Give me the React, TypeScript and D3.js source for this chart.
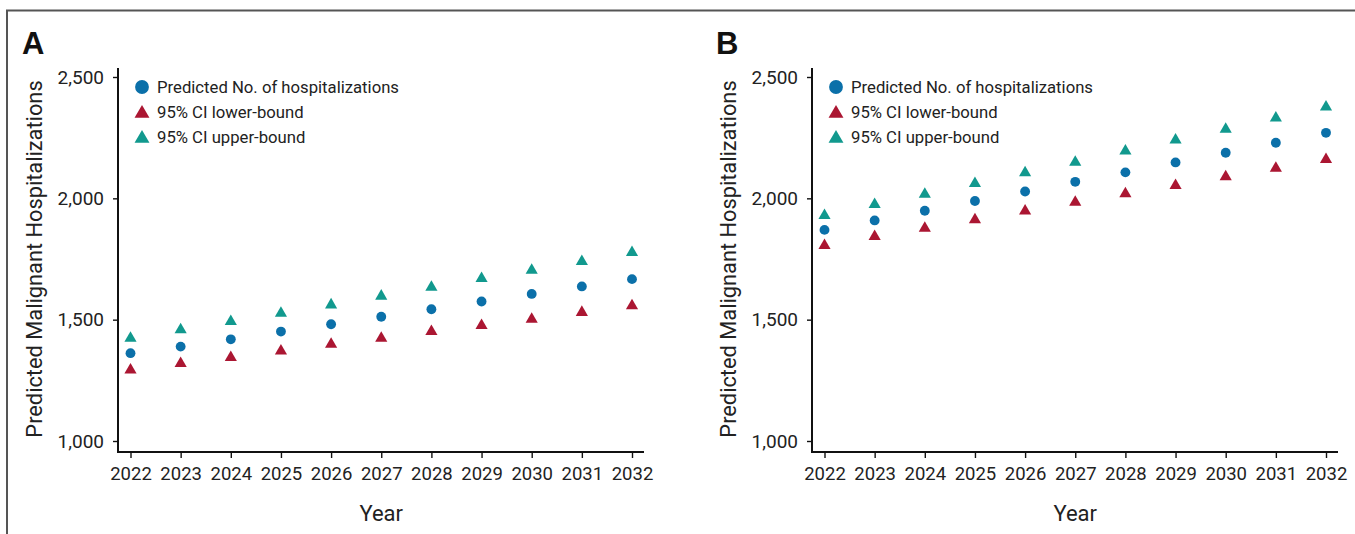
import { useEffect, useRef } from 'react'
import * as d3 from 'd3'

const years = [2022, 2023, 2024, 2025, 2026, 2027, 2028, 2029, 2030, 2031, 2032]
const yTicks = [1000, 1500, 2000, 2500]

const predA = [1362, 1389, 1419, 1451, 1481, 1512, 1543, 1575, 1606, 1637, 1667]
const lowerA = [1300, 1326, 1351, 1378, 1406, 1430, 1458, 1483, 1509, 1537, 1564]
const upperA = [1430, 1465, 1499, 1533, 1568, 1604, 1641, 1677, 1711, 1747, 1784]

const predB = [1870, 1909, 1949, 1989, 2028, 2068, 2107, 2148, 2188, 2229, 2270]
const lowerB = [1813, 1850, 1884, 1919, 1955, 1991, 2026, 2060, 2096, 2131, 2167]
const upperB = [1936, 1982, 2024, 2068, 2112, 2156, 2202, 2247, 2292, 2338, 2383]

const legendLabels = ['Predicted No. of hospitalizations', '95% CI lower-bound', '95% CI upper-bound']

const BLUE = '#0b70a9'
const RED = '#ab1632'
const TEAL = '#11998e'
const FONT = 'Roboto, "Liberation Sans", Arial, sans-serif'

const panels = [
  { label: 'A', left: 118, pred: predA, lower: lowerA, upper: upperA },
  { label: 'B', left: 812, pred: predB, lower: lowerB, upper: upperB },
]

export default function App() {
  const svgRef = useRef<SVGSVGElement>(null)

  useEffect(() => {
    const svg = d3.select(svgRef.current)
    svg.selectAll('*').remove()

    // outer frame (top and left rules)
    svg.append('path')
      .attr('d', 'M7,534 V10.5 H1355')
      .attr('fill', 'none')
      .attr('stroke', '#555')
      .attr('stroke-width', 2)

    const y = d3.scaleLinear().domain([1000, 2500]).range([441, 77])
    const tri = d3.symbol().type(d3.symbolTriangle)
    const circ = d3.symbol().type(d3.symbolCircle)

    panels.forEach((p) => {
      const x = d3.scaleLinear().domain([2022, 2032]).range([p.left + 12.5, p.left + 514])
      const g = svg.append('g')

      g.append('text')
        .attr('x', p.left - 96)
        .attr('y', 54)
        .attr('font-family', '"Liberation Sans Narrow", "Liberation Sans", Arial, sans-serif')
        .attr('font-weight', 'bold')
        .attr('font-size', 31)
        .attr('fill', '#111')
        .text(p.label)

      // y axis
      const yAxis = g.append('g')
        .attr('transform', `translate(${p.left},0)`)
        .call(d3.axisLeft(y).tickValues(yTicks).tickSize(5).tickPadding(9).tickSizeOuter(0).tickFormat(d3.format(',')))
      yAxis.select('.domain').remove()
      yAxis.selectAll('line').attr('stroke', '#111').attr('stroke-width', 1.4)
      yAxis.selectAll('text')
        .attr('font-family', FONT)
        .attr('font-size', 19)
        .attr('fill', '#222')

      // x axis
      const xAxis = g.append('g')
        .attr('transform', `translate(0,452)`)
        .call(d3.axisBottom(x).tickValues(years).tickSize(6).tickPadding(9).tickSizeOuter(0).tickFormat(d3.format('d')))
      xAxis.select('.domain').remove()
      xAxis.selectAll('line').attr('stroke', '#111').attr('stroke-width', 1.4)
      xAxis.selectAll('text')
        .attr('font-family', FONT)
        .attr('font-size', 18.5)
        .attr('fill', '#222')

      // axis lines
      g.append('path')
        .attr('d', `M${p.left},${y(2500) - 9} V452 H${x(2032) + 12}`)
        .attr('fill', 'none')
        .attr('stroke', '#111')
        .attr('stroke-width', 2)

      // titles
      g.append('text')
        .attr('transform', `translate(${p.left - 76},${(y(1000) + y(2500)) / 2}) rotate(-90)`)
        .attr('text-anchor', 'middle')
        .attr('font-family', FONT)
        .attr('font-size', 21.8)
        .attr('fill', '#222')
        .text('Predicted Malignant Hospitalizations')

      g.append('text')
        .attr('x', x(2027))
        .attr('y', 521)
        .attr('text-anchor', 'middle')
        .attr('font-family', FONT)
        .attr('font-size', 22)
        .attr('fill', '#222')
        .text('Year')

      // markers (triangles nudged so their box centre sits on the value)
      const series = [
        { values: p.upper, shape: tri.size(64)(), color: TEAL, dy: 1.7 },
        { values: p.lower, shape: tri.size(64)(), color: RED, dy: 1.7 },
        { values: p.pred, shape: circ.size(76)(), color: BLUE, dy: 0 },
      ]
      series.forEach((s) => {
        g.selectAll(null)
          .data(years.map((yr, i) => ({ yr, v: s.values[i] })))
          .join('path')
          .attr('d', s.shape)
          .attr('transform', (d) => `translate(${x(d.yr)},${y(d.v) + s.dy})`)
          .attr('fill', s.color)
      })

      // legend
      const legendColors = [BLUE, RED, TEAL]
      const lg = g.append('g').attr('transform', `translate(${p.left + 24},87)`)
      legendLabels.forEach((lab, i) => {
        const row = lg.append('g').attr('transform', `translate(0,${i * 25})`)
        row.append('path')
          .attr('d', i === 0 ? circ.size(150)() : tri.size(96)())
          .attr('transform', i === 0 ? null : 'translate(0,1.5)')
          .attr('fill', legendColors[i])
        row.append('text')
          .attr('x', 15)
          .attr('y', 6)
          .attr('font-family', FONT)
          .attr('font-size', 16.7)
          .attr('fill', '#222')
          .text(lab)
      })
    })
  }, [])

  return (
    <svg
      ref={svgRef}
      width={1355}
      height={534}
      style={{ position: 'absolute', left: 0, top: 0, background: '#fff' }}
    />
  )
}
